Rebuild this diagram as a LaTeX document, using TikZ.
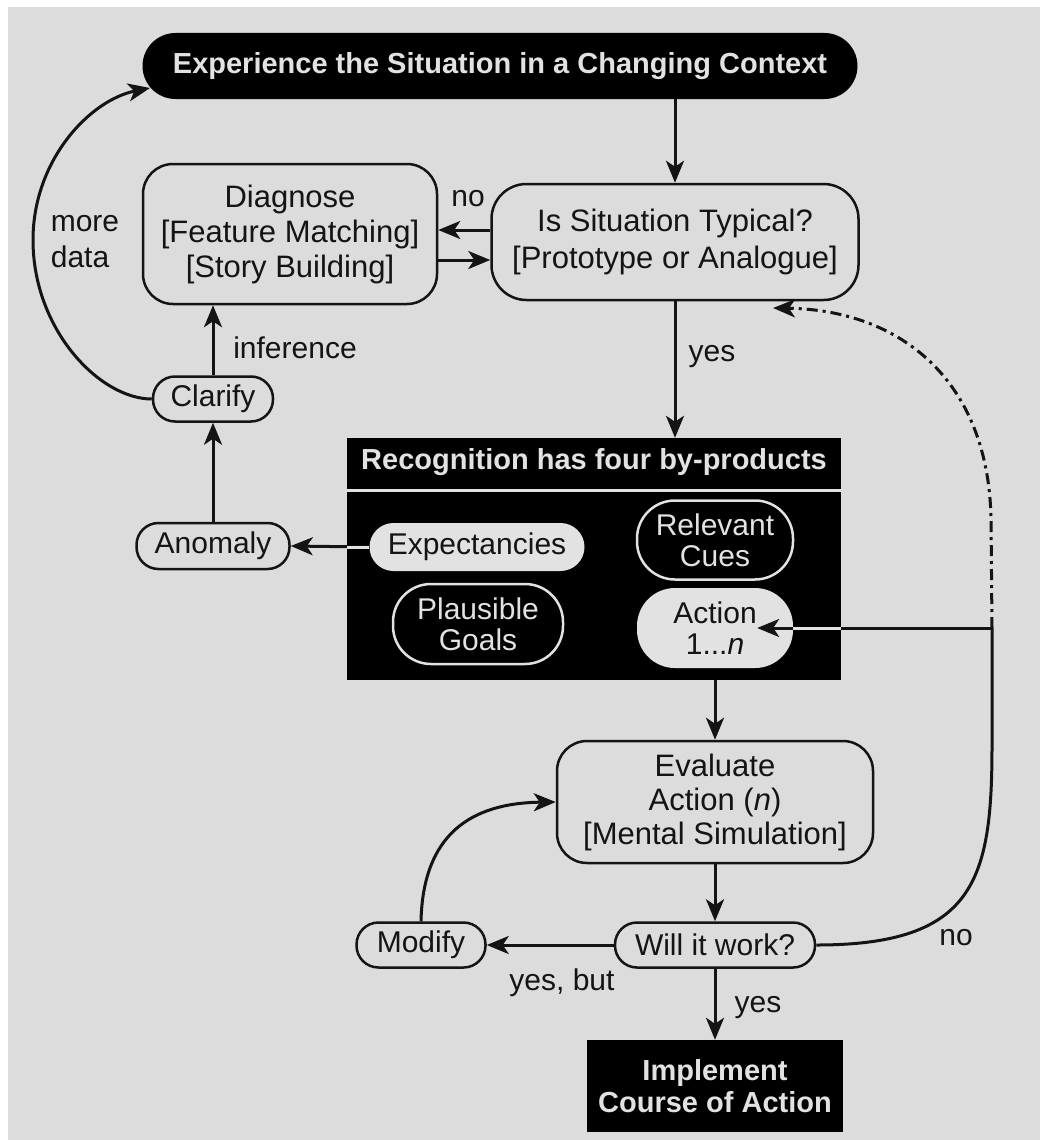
\documentclass[tikz,border=0pt]{standalone}
\usepackage{fontspec}
\setmainfont{Liberation Sans}
\usetikzlibrary{arrows.meta,calc}
\definecolor{bgc}{HTML}{DCDCDC}
\definecolor{lite}{HTML}{E2E2E2}
\definecolor{ink}{HTML}{141414}
\newcommand\myfs[2]{\fontsize{#1}{#2}\selectfont}
\begin{document}
\begin{tikzpicture}[x=1pt,y=-1pt,
  rbox/.style={draw=ink, line width=2.5pt, fill=bgc, rounded corners=#1, inner sep=0pt, align=center, text=ink, font=\myfs{31}{35}},
  dbox/.style={fill=black, inner sep=0pt, align=center, text=lite, font=\bfseries\myfs{29}{33}},
  lpill/.style={fill=lite, rounded corners=#1, inner sep=0pt, align=center, text=ink, font=\myfs{30}{31}},
  opill/.style={fill=black, draw=lite, line width=2.5pt, rounded corners=#1, inner sep=0pt, align=center, text=lite, font=\myfs{30}{31}},
  lbl/.style={text=ink, inner sep=0pt, font=\myfs{30}{34}},
  arr/.style={draw=ink, line width=3pt, -{Stealth[length=22pt,width=18pt,inset=6pt]}},
  plain/.style={draw=ink, line width=3pt},
  liteline/.style={draw=lite, line width=3pt}]
\useasboundingbox (0,0) rectangle (1040,1140);
\fill[white] (0,0) rectangle (1040,1140);
\fill[bgc] (8,7) rectangle (1040,1140);

% nodes
\node[dbox, minimum width=715pt, minimum height=66pt, rounded corners=33pt] (title) at (500,66) {Experience the Situation in a Changing Context};
\node[rbox=30pt, minimum width=294pt, minimum height=140pt] (diag) at (290,234) {Diagnose\\{}[Feature Matching]\\{}[Story Building]};
\node[rbox=35pt, minimum width=367pt, minimum height=116pt, font=\myfs{31}{37}] (typ) at (675,242) {Is Situation Typical?\\{}[Prototype or Analogue]};
\node[rbox=22pt, minimum width=120pt, minimum height=45pt, font=\myfs{30}{34}] (clar) at (213,399) {Clarify};
\node[rbox=22pt, minimum width=153pt, minimum height=46pt, font=\myfs{30}{34}] (anom) at (213,546) {Anomaly};

\node[fill=black, minimum width=494pt, minimum height=242pt, inner sep=0pt] (rec) at (594,559) {};
\node[dbox] (rechead) at (594,462) {Recognition has four by-products};
\draw[liteline] ($(rec.west)+(0,-69)$) -- ($(rec.east)+(0,-69)$);

\node[lpill=24pt, minimum width=215pt, minimum height=48pt] (exp) at (477,547) {Expectancies};
\node[opill=38pt, minimum width=156pt, minimum height=79pt] (rel) at (715,540) {Relevant\\Cues};
\node[opill=38pt, minimum width=170pt, minimum height=80pt] (goal) at (478,624) {Plausible\\Goals};
\node[lpill=38pt, minimum width=156pt, minimum height=80pt] (act) at (715,628) {Action\\1...\textit{n}};

\node[rbox=30pt, minimum width=316pt, minimum height=122pt, font=\myfs{31}{34}] (eval) at (715,802) {Evaluate\\Action (\textit{n})\\{}[Mental Simulation]};
\node[rbox=22pt, minimum width=200pt, minimum height=45pt, font=\myfs{30}{34}] (will) at (715,945) {Will it work?};
\node[rbox=22pt, minimum width=129pt, minimum height=45pt, font=\myfs{30}{34}] (mod) at (421,945) {Modify};
\node[dbox, minimum width=256pt, minimum height=92pt, font=\bfseries\myfs{29}{32}] (impl) at (715,1086) {Implement\\Course of Action};

% connectors
\draw[arr] (title.south -| typ.north) -- (typ.north);
\draw[arr] ([yshift=12pt]typ.west) -- ([yshift=12pt]typ.west -| diag.east);
\draw[arr] ([yshift=-18pt]typ.west -| diag.east) -- ([yshift=-18pt]typ.west);
\draw[arr] (typ.south) -- (typ.south |- rec.north);
\draw[arr] (clar.north) -- (clar.north |- diag.south);
\draw[arr] (anom.north) -- (clar.south);
\draw[arr] (exp.west) -- (anom.east);
\draw[liteline] (exp.west) -- (exp.west -| rec.west);

\coordinate (tin) at (150,88);
\draw[arr] (clar.west) .. controls (100,399) and (33,330) .. (33,240) .. controls (33,160) and (90,100) .. (tin);

\coordinate (junc) at (992,628);
\coordinate (dashend) at (773,308);
\draw[arr] (junc) -- ([xshift=-36pt]act.east);
\draw[liteline] (junc -| rec.east) -- (act.east);
\draw[plain] (will.east) .. controls (975,945) and (992,880) .. (992,745) -- (junc);
\draw[arr, dash pattern=on 11pt off 5pt on 3pt off 5pt] (junc) -- (991,520) .. controls (989,380) and (900,310) .. (dashend);

\draw[arr] (rec.south -| eval.north) -- (eval.north);
\draw[arr] (eval.south) -- (will.north);
\draw[arr] (will.west) -- (mod.east);
\draw[arr] (mod.north) .. controls (423,835) and (470,803) .. (eval.west);
\draw[arr] (will.south) -- (impl.north);

% labels
\node[lbl] (lno1) at (468,199) {no};
\node[lbl] (linf) at (295,348) {inference};
\node[lbl, align=left, font=\myfs{30}{36}] (lmore) at (85,242) {more\\data};
\node[lbl] (lyes1) at (712,357) {yes};
\node[lbl] (lyesbut) at (562,983) {yes, but};
\node[lbl] (lyes2) at (758,1008) {yes};
\node[lbl] (lno2) at (956,938) {no};
\end{tikzpicture}
\end{document}
